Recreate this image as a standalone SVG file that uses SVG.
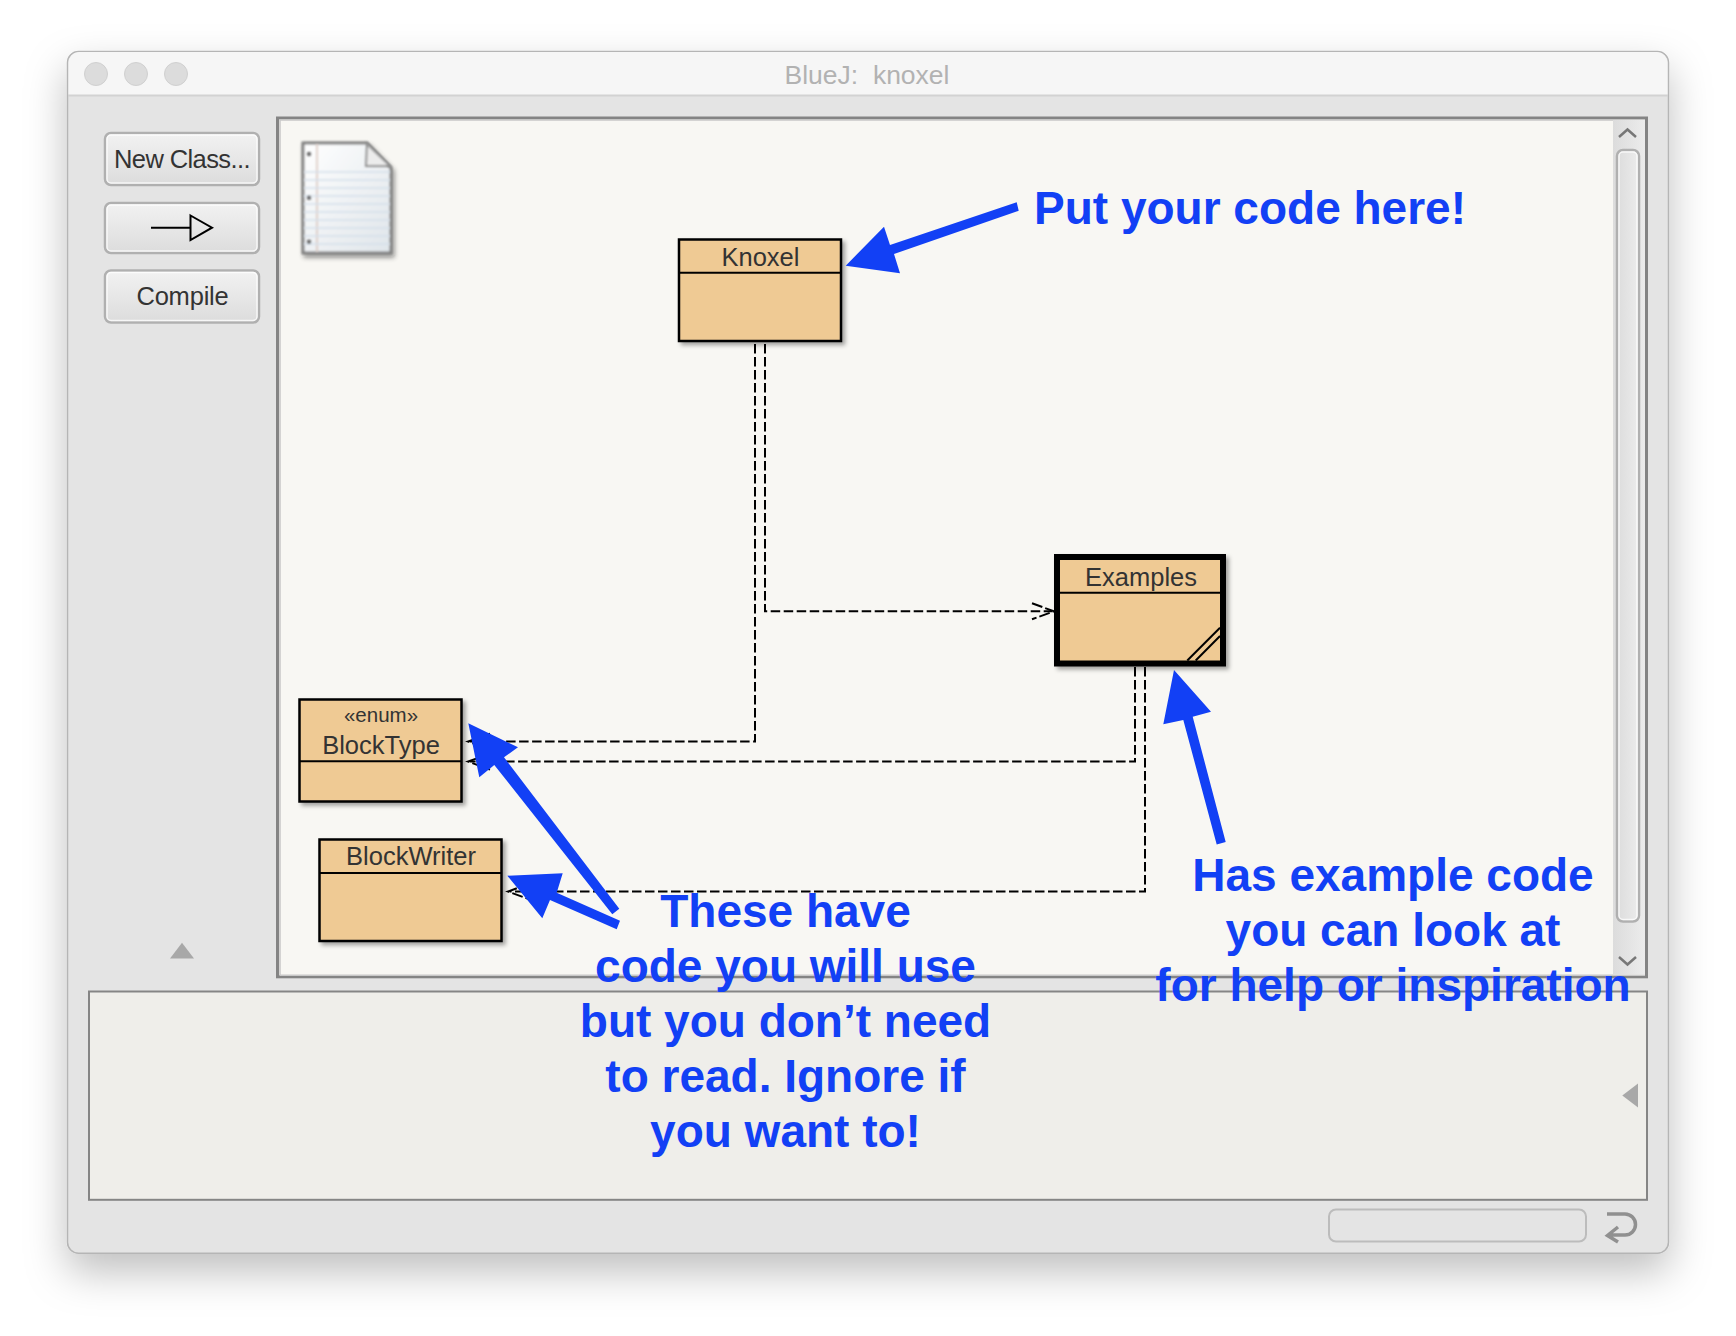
<svg xmlns="http://www.w3.org/2000/svg" width="1736" height="1336" viewBox="0 0 1736 1336">
<style>
.ui{font-family:"Liberation Sans",Arial,sans-serif;fill:#333;text-anchor:middle;font-size:25.500px}
.lbl{font-family:"Liberation Sans",Arial,sans-serif;font-weight:700;font-size:46px;fill:#1240f5;text-anchor:middle}
.cls{fill:#efca94;stroke:#000;stroke-width:2.500}
.div{stroke:#000;stroke-width:2;fill:none}
.dash{fill:none;stroke:#000;stroke-width:2;stroke-dasharray:9.500 3.500}
.barb{fill:none;stroke:#000;stroke-width:2;stroke-dasharray:11 3}
.blue{fill:#1240f5}
.btn{fill:url(#bg);stroke:#b0b0b0;stroke-width:2.500}
.hl{fill:none;stroke:#fff;stroke-opacity:.75;stroke-width:1.500}
.dot{fill:#dcdcdc;stroke:#d0d0d0}
.chev{fill:none;stroke:#777;stroke-width:2.500}
</style>
<defs>
<linearGradient id="bg" x1="0" y1="0" x2="0" y2="1"><stop offset="0" stop-color="#f2f2f2"/><stop offset="1" stop-color="#dcdcdc"/></linearGradient>
<linearGradient id="sb" x1="0" y1="0" x2="1" y2="0"><stop offset="0" stop-color="#dcdcdc"/><stop offset="1" stop-color="#ececec"/></linearGradient>
<linearGradient id="nt" x1="0" y1="0" x2="1" y2="1"><stop offset="0" stop-color="#fff"/><stop offset="1" stop-color="#dfe5ea"/></linearGradient>
<filter id="win" x="-10%" y="-10%" width="120%" height="125%"><feDropShadow dx="0" dy="18" stdDeviation="20" flood-color="#000" flood-opacity="0.25"/></filter>
<filter id="sh" x="-10%" y="-10%" width="125%" height="125%"><feDropShadow dx="3" dy="3" stdDeviation="2" flood-color="#000" flood-opacity="0.35"/></filter>
<filter id="soft" x="-15%" y="-15%" width="130%" height="130%"><feGaussianBlur stdDeviation="0.800"/></filter>
<filter id="softsh" x="-15%" y="-15%" width="130%" height="130%"><feGaussianBlur in="SourceGraphic" stdDeviation="0.800" result="b"/><feDropShadow in="b" dx="2" dy="3" stdDeviation="2" flood-color="#000" flood-opacity="0.450"/></filter>
</defs>
<rect width="1736" height="1336" fill="#fff"/>
<g id="window">
<rect x="67.500" y="51.500" width="1601" height="1201.800" rx="11" fill="#e4e4e4" stroke="#b5b5b5" stroke-width="1.500" filter="url(#win)"/>
<path d="M68.500 95V63a11 11 0 0 1 11-11H1656.500a11 11 0 0 1 11 11V95Z" fill="#f6f6f6"/>
<path d="M68 95.500H1668" stroke="#d2d2d2" stroke-width="2"/>
<circle class="dot" cx="96" cy="74" r="11.500"/><circle class="dot" cx="136" cy="74" r="11.500"/><circle class="dot" cx="176" cy="74" r="11.500"/>
<text x="867" y="84" xml:space="preserve" style="font-family:'Liberation Sans',Arial,sans-serif;font-size:26.500px;fill:#b2b2b2;text-anchor:middle">BlueJ:  knoxel</text>
</g>
<g id="toolbar">
<g id="btn-new"><rect class="btn" x="105" y="133" width="154" height="52" rx="6"/><rect class="hl" x="107" y="135" width="150" height="48" rx="4"/>
<text class="ui" x="182" y="168" letter-spacing="-0.600">New Class...</text></g>
<g id="btn-arrow"><rect class="btn" x="105" y="203" width="154" height="50" rx="6"/><rect class="hl" x="107" y="205" width="150" height="46" rx="4"/>
<path d="M151 227.700H190.500M190.500 215.500L212 227.700L190.500 240Z" fill="none" stroke="#000" stroke-width="2"/></g>
<g id="btn-compile"><rect class="btn" x="105" y="270.500" width="154" height="52" rx="6"/><rect class="hl" x="107" y="272.500" width="150" height="48" rx="4"/>
<text class="ui" x="182.500" y="305" letter-spacing="-0.200">Compile</text></g>
<path d="M170 958.500H194L182 942.800Z" fill="#a8a8a8"/>
</g>
<g id="canvas">
<rect x="277.500" y="118" width="1369" height="858.800" fill="#f8f7f3" stroke="#848484" stroke-width="3"/>
<path d="M280 975.300V120H1645" fill="none" stroke="#c8c8c8" stroke-width="1.500"/>
<path d="M280 975.300H1645" fill="none" stroke="#c8c8c8" stroke-width="1.500"/>
<rect x="1613" y="120" width="32" height="854.500" fill="url(#sb)"/>
<rect x="1617" y="150" width="22" height="771.500" rx="6" fill="url(#sb)" stroke="#b0b0b0" stroke-width="2.500"/>
<rect class="hl" x="1619" y="152" width="18" height="767.500" rx="4"/>
<path class="chev" d="M1619 137L1627.500 129.500L1636 137"/>
<path class="chev" d="M1619 957L1627.500 964.500L1636 957"/>
</g>
<g id="note">
<path d="M303 143H367L391 168V253H303Z" fill="url(#nt)" stroke="#808080" stroke-width="3" filter="url(#softsh)"/>
<g filter="url(#soft)">
<path d="M317 144V252" stroke="#d8c4bc" stroke-width="1.500"/>
<path d="M304 172H390M304 180H390M304 188H390M304 196H390M304 204H390M304 212H390M304 220H390M304 228H390M304 236H390M304 244H390" stroke="#d5e0ea" stroke-width="1.500"/>
<path d="M367 144L390 166H366Z" fill="#ececec" stroke="#909090" stroke-width="2"/>
<circle cx="309" cy="154" r="2.200" fill="#666"/><circle cx="309" cy="197.700" r="2.200" fill="#666"/><circle cx="309" cy="241.700" r="2.200" fill="#666"/>
</g>
</g>
<g id="messages">
<rect x="89" y="991.500" width="1558" height="208.300" fill="#efeeea" stroke="#858585" stroke-width="2"/>
<path d="M1622.300 1095.500L1638 1083.500V1107.500Z" fill="#a8a8a8"/>
<rect x="1329" y="1209.500" width="257" height="32" rx="7" fill="#e4e4e4" stroke="#bcbcbc" stroke-width="2"/>
<path d="M1607 1214H1625a10.500 10.500 0 0 1 0 21H1608M1618 1227L1607.500 1235.500L1618 1242" fill="none" stroke="#909090" stroke-width="3.500"/>
</g>
<g id="connectors">
<path class="dash" d="M755 344V741.600H470"/><path class="barb" d="M490 733.600L468 741.600L490 749.600"/>
<path class="dash" d="M765 344V611.300H1052"/><path class="barb" d="M1032 603.300L1054 611.300L1032 619.300"/>
<path class="dash" d="M1135 667V761.600H470"/><path class="barb" d="M490 753.600L468 761.600L490 769.600"/>
<path class="dash" d="M1145 667V891.500H510"/><path class="barb" d="M530 883.500L508 891.500L530 899.500"/>
</g>
<g id="knoxel">
<rect class="cls" x="679" y="239.500" width="162" height="101.500" filter="url(#sh)"/>
<path class="div" d="M679 272.800H841"/>
<text class="ui" x="760.500" y="266">Knoxel</text>
</g>
<g id="examples">
<rect x="1057" y="557" width="166" height="106.500" fill="#efca94" stroke="#000" stroke-width="6" filter="url(#sh)"/>
<path class="div" d="M1060 592.700H1220M1187.300 660.500L1220 627.700M1195.700 660.500L1220 636"/>
<text class="ui" x="1141" y="585.500">Examples</text>
</g>
<g id="blocktype">
<rect class="cls" x="299.500" y="699.500" width="162" height="102" filter="url(#sh)"/>
<path class="div" d="M299 761.300H461"/>
<text class="ui" x="381" y="721.500" style="font-size:20.500px">«enum»</text>
<text class="ui" x="381" y="754">BlockType</text>
</g>
<g id="blockwriter">
<rect class="cls" x="319.500" y="839.500" width="182" height="101.500" filter="url(#sh)"/>
<path class="div" d="M319 873H501"/>
<text class="ui" x="411" y="865">BlockWriter</text>
</g>
<g id="annotations">
<path class="blue" d="M845.700 265.700L884 226.700L890 245L1016.700 202.300L1018.700 210.700L894 254L900 273.300Z"/>
<path class="blue" d="M1174 670L1211 711.700L1192.700 716.700L1225.700 842L1216.700 844.400L1183.300 720L1163.300 724.300Z"/>
<path class="blue" d="M468.300 723.300L518 747.300L504 757.300L619.300 908.700L612.300 914.300L494.300 765L479.300 777.300Z"/>
<path class="blue" d="M507.300 875.700L562.700 873.300L556.700 892.700L620 920.700L616.700 929.300L550 900L542.300 918.300Z"/>
<text class="lbl" x="1250" y="223.700">Put your code here!</text>
<text class="lbl" x="1393" y="891">Has example code</text>
<text class="lbl" x="1393" y="946">you can look at</text>
<text class="lbl" x="1393" y="1001">for help or inspiration</text>
<text class="lbl" x="785.500" y="927">These have</text>
<text class="lbl" x="785.500" y="982">code you will use</text>
<text class="lbl" x="785.500" y="1037">but you don’t need</text>
<text class="lbl" x="785.500" y="1092">to read. Ignore if</text>
<text class="lbl" x="785.500" y="1147">you want to!</text>
</g>
</svg>
